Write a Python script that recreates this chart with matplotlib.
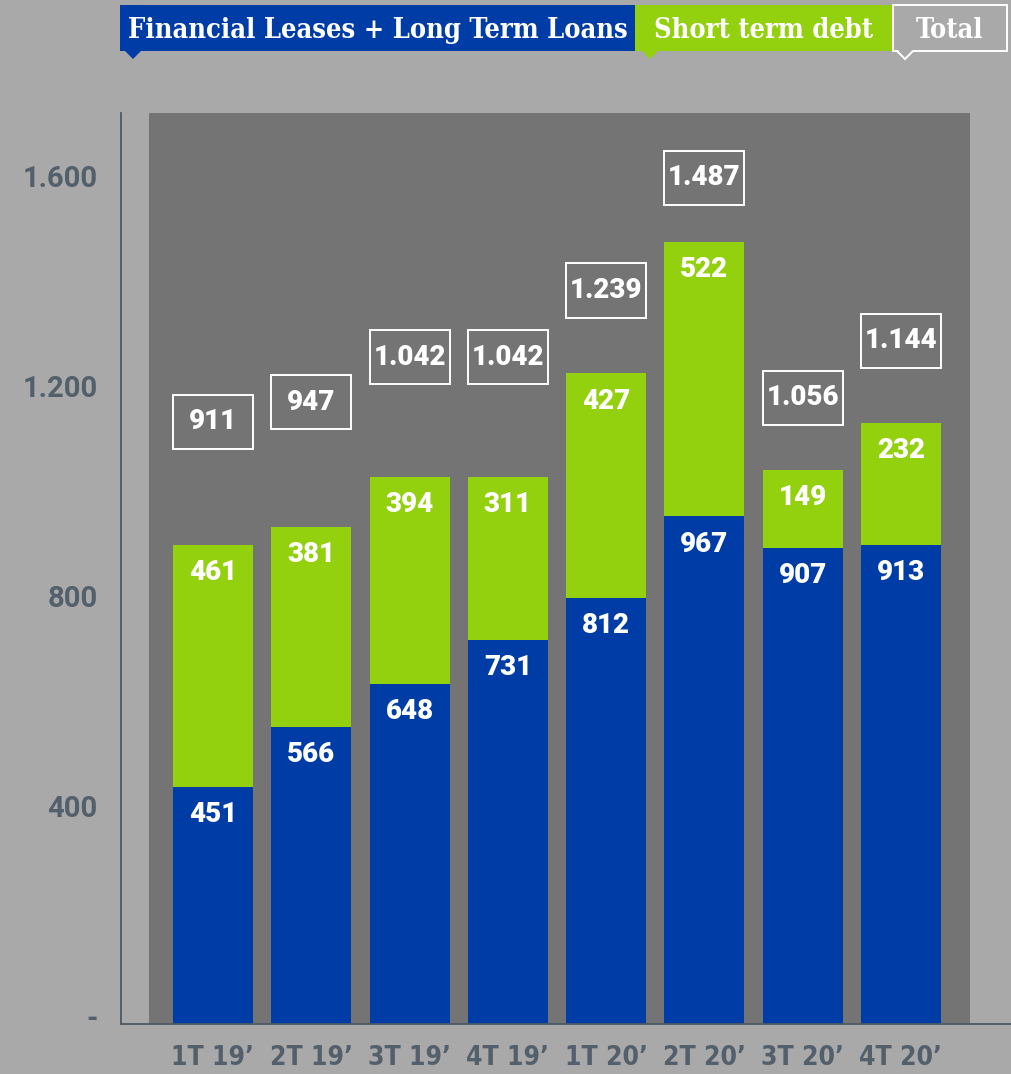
import matplotlib
matplotlib.use("Agg")
import matplotlib.pyplot as plt
from matplotlib.patches import Rectangle, Polygon
from matplotlib.transforms import ScaledTranslation
import numpy as np

# ---- data ----
quarters = ["1T 19\u2019", "2T 19\u2019", "3T 19\u2019", "4T 19\u2019",
            "1T 20\u2019", "2T 20\u2019", "3T 20\u2019", "4T 20\u2019"]
long_term = [451, 566, 648, 731, 812, 967, 907, 913]
short_term = [461, 381, 394, 311, 427, 522, 149, 232]
totals = [911, 947, 1042, 1042, 1239, 1487, 1056, 1144]
total_labels = ["911", "947", "1.042", "1.042", "1.239", "1.487", "1.056", "1.144"]
y_ticks = [0, 400, 800, 1200, 1600]
y_tick_labels = ["-", "400", "800", "1.200", "1.600"]

# vertical placement of the total badges (data units)
badge_y = [1147, 1184, 1270, 1270, 1397, 1612, 1193, 1301]

# ---- style ----
BLUE = "#003ca6"
GREEN = "#93d10e"
BG = "#a9a9a9"
PANEL = "#747474"
SLATE = "#53606b"
W, H = 1011, 1074

fig = plt.figure(figsize=(W / 100, H / 100), dpi=100, facecolor=BG)


def px(x, y):
    """pixel (from top-left) -> figure fraction"""
    return x / W, 1 - y / H


ax = fig.add_axes([121 / W, (H - 1024) / H, 890 / W, 911 / H])
ax.set_facecolor("none")
x = np.arange(len(quarters))
ax.set_xlim(-0.936, 8.12)
ax.set_ylim(0, 1735)

# darker panel behind bars
ax.add_patch(Rectangle((-0.651, 0), 7.70 + 0.651, 1735, facecolor=PANEL,
                       edgecolor="none", zorder=0))

bw = 0.814
ax.bar(x, long_term, width=bw, color=BLUE, zorder=2)
ax.bar(x, short_term, width=bw, bottom=long_term, color=GREEN, zorder=2)

num_font = dict(family="Roboto", weight="heavy", size=20, color="white")
for xi, lt, st in zip(x, long_term, short_term):
    ax.annotate(str(lt), (xi, lt), xytext=(0, -20), textcoords="offset points",
                ha="center", va="center", zorder=3, **num_font)
    ax.annotate(str(st), (xi, lt + st), xytext=(0, -20), textcoords="offset points",
                ha="center", va="center", zorder=3, **num_font)

# total badges
bh = 103
for xi, by, lab in zip(x, badge_y, total_labels):
    ax.add_patch(Rectangle((xi - bw / 2, by - bh / 2), bw, bh, facecolor="none",
                           edgecolor="white", linewidth=1.4, zorder=3))
    ax.text(xi, by, lab, ha="center", va="center", zorder=4, **num_font)

# axes
for s in ["top", "right"]:
    ax.spines[s].set_visible(False)
for s in ["left", "bottom"]:
    ax.spines[s].set_color("#4c5964")
    ax.spines[s].set_linewidth(1.3)

ax.set_xticks(x)
ax.set_xticklabels(quarters, family="DejaVu Sans", stretch="condensed",
                   weight="bold", size=19, color=SLATE)
ax.set_yticks(y_ticks)
ax.set_yticklabels(y_tick_labels, family="Roboto", weight="bold", size=21,
                   color=SLATE)
ax.tick_params(axis="both", length=0)
ax.tick_params(axis="x", pad=15)
ax.tick_params(axis="y", pad=17)
for lbl in ax.get_yticklabels():
    lbl.set_transform(lbl.get_transform() + ScaledTranslation(0, 8 / 100, fig.dpi_scale_trans))

# ---- legend badges across the top ----
leg_font = dict(family="DejaVu Serif", weight="bold", stretch="condensed",
                size=19.5, color="white", va="center")


def badge(x0, x1, color, text, tip_x, outline=False):
    y0, y1 = 5, 51
    (fx0, fy1), (fx1, fy0) = px(x0, y0), px(x1, y1)
    if outline:
        fig.patches.append(Rectangle((fx0, fy0), fx1 - fx0, fy1 - fy0,
                                     transform=fig.transFigure, facecolor="none",
                                     edgecolor="white", linewidth=1.4))
        tri = [px(tip_x - 8, y1), px(tip_x, y1 + 8), px(tip_x + 8, y1)]
        fig.patches.append(Polygon([px(tip_x - 7, y1)] + [px(tip_x + 7, y1)],
                                   closed=False, transform=fig.transFigure,
                                   edgecolor=BG, linewidth=2.5, fill=False))
        fig.patches.append(Polygon(tri, closed=False, transform=fig.transFigure,
                                   edgecolor="white", linewidth=1.4, fill=False))
    else:
        fig.patches.append(Rectangle((fx0, fy0), fx1 - fx0, fy1 - fy0,
                                     transform=fig.transFigure, facecolor=color,
                                     edgecolor="none"))
        tri = [px(tip_x - 8, y1), px(tip_x, y1 + 8), px(tip_x + 8, y1)]
        fig.patches.append(Polygon(tri, closed=True, transform=fig.transFigure,
                                   facecolor=color, edgecolor="none"))
    tx, ty = px((x0 + x1) / 2, 30)
    fig.text(tx, ty, text, ha="center", **leg_font)


badge(120, 635, BLUE, "Financial Leases + Long Term Loans", 133)
badge(635, 892, GREEN, "Short term debt", 650)
badge(893, 1007, None, "Total", 905, outline=True)

fig.savefig("out.png", dpi=100, facecolor=BG)
